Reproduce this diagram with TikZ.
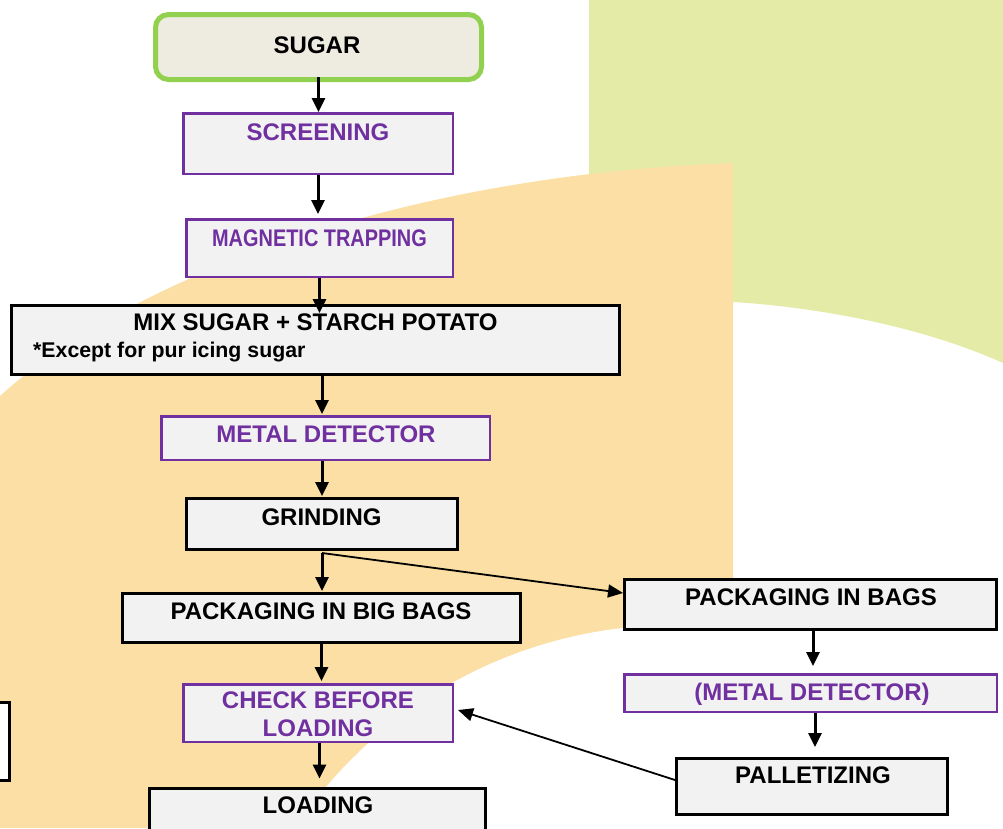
\documentclass[tikz,border=0pt]{standalone}
\usepackage{fontspec}
\usepackage{graphicx}
\setmainfont{Liberation Sans}
\usetikzlibrary{arrows.meta,calc}
\definecolor{purp}{HTML}{7030A0}
\definecolor{grn}{HTML}{92D050}
\definecolor{bgGreen}{HTML}{E4EBA6}
\definecolor{bgOrange}{HTML}{FBDFA4}
\definecolor{boxfill}{HTML}{F2F2F2}
\definecolor{sugfill}{HTML}{EEECE1}
\begin{document}
\begin{tikzpicture}[x=1pt,y=-1pt,
  box/.style={draw, rectangle, inner sep=0pt, fill=boxfill},
  pbox/.style={box, draw=purp, line width=2.5pt},
  kbox/.style={box, draw=black, line width=3pt},
  txt/.style={font=\fontsize{24}{28}\selectfont\bfseries, anchor=base, inner sep=0pt},
  ptxt/.style={txt, text=purp},
  arr/.style={line width=3pt, -{Triangle[length=14pt,width=13pt]}},
  thinarr/.style={line width=1.8pt, -{Triangle[length=15pt,width=13pt]}},
]
\useasboundingbox (0,0) rectangle (1003,828);
\begin{scope}
\clip (0,0) rectangle (1003,828);
\fill[bgGreen] (589,0) -- (1003,0) -- (1003,363) .. controls (930,330) and (830,308) .. (733,302) -- (589,302) -- cycle;
\fill[bgOrange] (0,396) .. controls (130,278) and (400,175) .. (733,163) -- (733,828) -- (0,828) -- cycle;
\fill[white] (675,1082) circle[radius=457pt];
\end{scope}

% boxes
\node[box, draw=grn, line width=5pt, fill=sugfill, rounded corners=13pt, minimum width=326pt, minimum height=65pt] (sugar) at (318.5,47) {};
\node[pbox, minimum width=269.5pt, minimum height=60.5pt] (scr) at (318,143.5) {};
\node[pbox, minimum width=266.5pt, minimum height=57.5pt] (mag) at (319.5,248) {};
\node[kbox, minimum width=608pt, minimum height=69pt] (mix) at (315.5,340) {};
\node[pbox, minimum width=328.5pt, minimum height=43.5pt] (met) at (325.5,438) {};
\node[kbox, minimum width=271pt, minimum height=51pt] (grind) at (322,524) {};
\node[kbox, minimum width=398pt, minimum height=49pt] (pbig) at (321.5,618) {};
\node[kbox, minimum width=372pt, minimum height=50pt] (pbags) at (810.5,604.5) {};
\node[pbox, minimum width=372.5pt, minimum height=37.5pt] (pmet) at (810.5,693) {};
\node[pbox, minimum width=269.5pt, minimum height=57.5pt] (check) at (318,713) {};
\node[kbox, minimum width=271pt, minimum height=56pt] (pall) at (812,786.5) {};
\node[kbox, minimum width=336pt, minimum height=62pt] (load) at (317.5,819) {};
\node[kbox, fill=white, minimum width=18pt, minimum height=78pt] (leftbox) at (0,741.5) {};

% texts
\node[txt] (tsugar) at (317,53) {SUGAR};
\node[ptxt] (tscr) at (318,140) {SCREENING};
\node[ptxt] (tmag) at (319.5,246) {\scalebox{0.83}[1]{MAGNETIC TRAPPING}};
\node[txt] (tmix) at (315.5,330) {MIX SUGAR + STARCH POTATO};
\node[txt, font=\fontsize{21.3}{25}\selectfont\bfseries, anchor=base west] (texc) at (33,357) {*Except for pur icing sugar};
\node[ptxt] (tmet) at (326,442) {METAL DETECTOR};
\node[txt] (tgr) at (321.5,525) {GRINDING};
\node[txt] (tpbig) at (321,619) {PACKAGING IN BIG BAGS};
\node[txt] (tpbags) at (811,605) {PACKAGING IN BAGS};
\node[ptxt] (tpmet) at (812,700) {(METAL DETECTOR)};
\node[ptxt] (tch1) at (318,708) {CHECK BEFORE};
\node[ptxt] (tch2) at (318,736) {LOADING};
\node[txt] (tpall) at (813,783) {PALLETIZING};
\node[txt] (tload) at (318,813) {LOADING};

% connectors
\draw[arr] ([yshift=5pt]sugar.south) -- (sugar.south |- scr.north);
\draw[arr, shorten >=4pt] (scr.south) -- (scr.south |- mag.north);
\draw[arr, shorten >=-9pt] (mag.south) -- (mag.south |- mix.north);
\draw[arr, shorten >=1pt] ([xshift=6.5pt]mix.south) -- ([xshift=-3.5pt]met.north);
\draw[arr, shorten >=1pt] ([xshift=-3.5pt]met.south) -- (grind.north);
\draw[arr, shorten >=1pt] ([yshift=-2pt]grind.south) -- (grind.south |- pbig.north);
\draw[thinarr] ([yshift=-2pt]grind.south) -- ([yshift=11.5pt]pbags.west);
\draw[arr, shorten >=2pt] (pbig.south) -- (pbig.south |- check.north);
\draw[arr, shorten >=8pt] ([xshift=1.5pt]check.south) -- ([xshift=2pt]load.north);
\draw[arr, shorten >=7pt] ([xshift=2.5pt]pbags.south) -- ([xshift=2.5pt]pmet.north);
\draw[arr, shorten >=10pt] ([xshift=4.5pt]pmet.south) -- ([xshift=3pt]pall.north);
\draw[thinarr] ([yshift=6.5pt]pall.west) -- ([xshift=4pt,yshift=3pt]check.east);
\end{tikzpicture}
\end{document}
